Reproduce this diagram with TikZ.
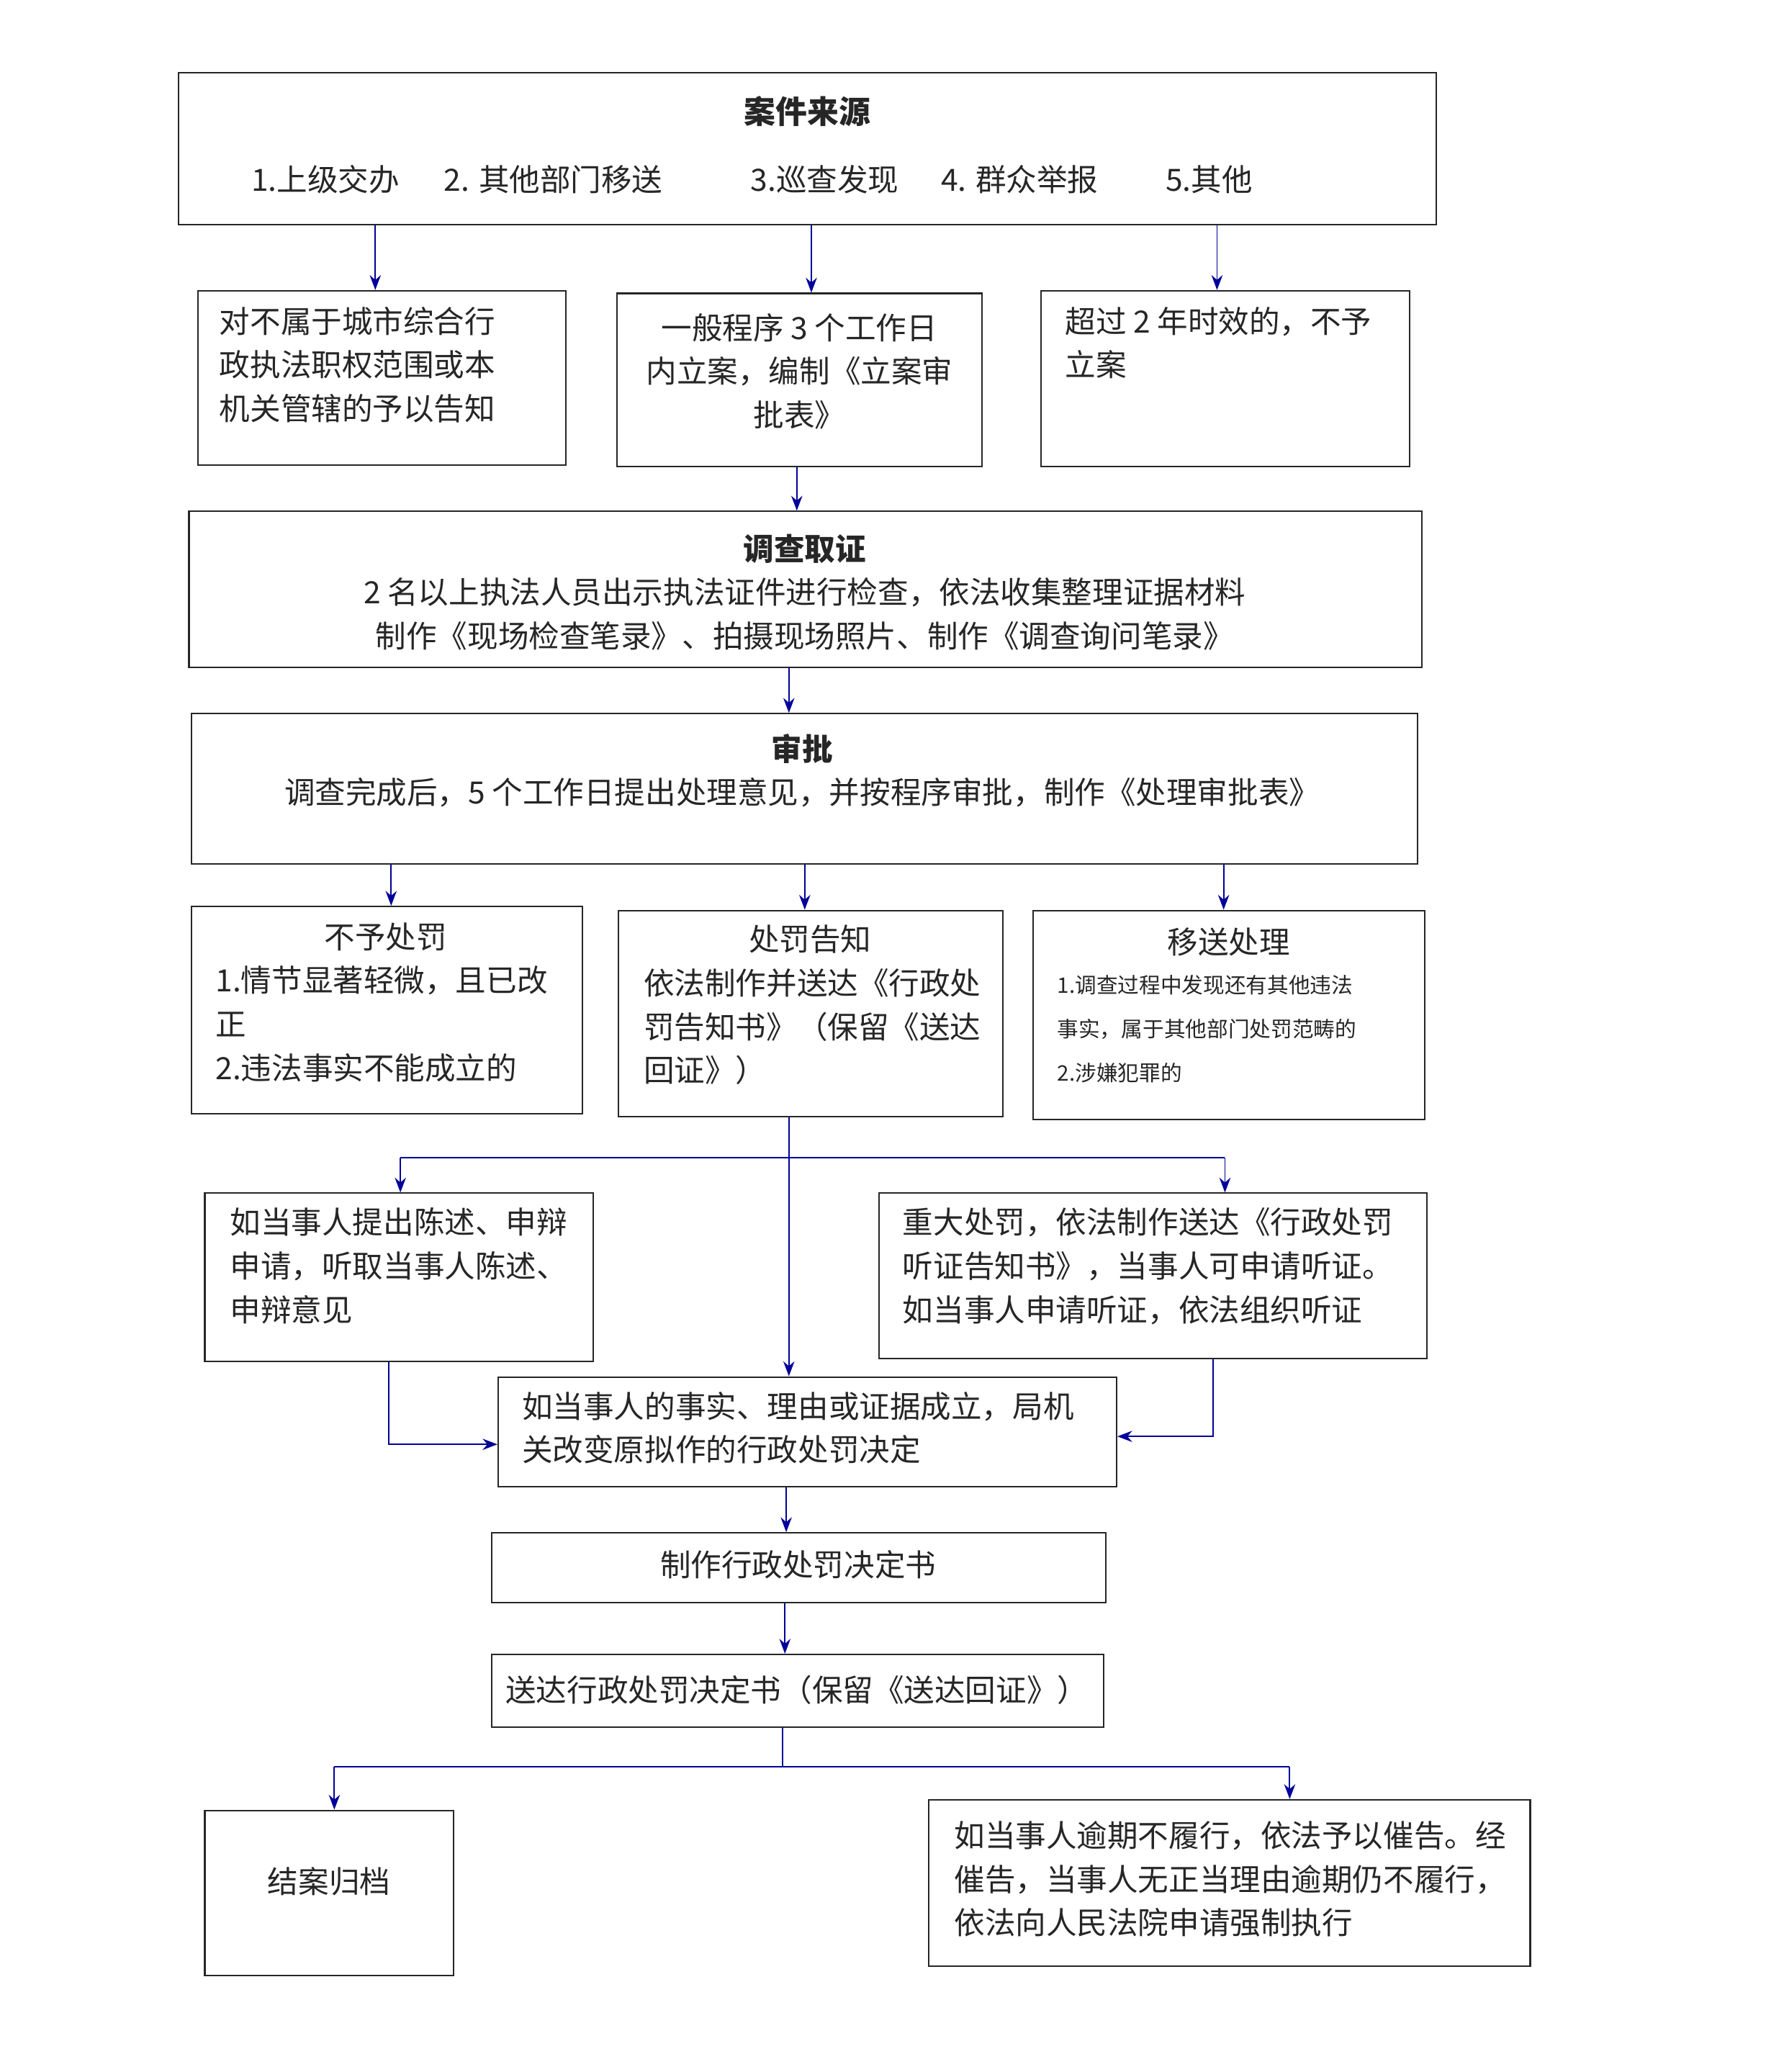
\documentclass[tikz,border=0pt]{standalone}
\usepackage{fontspec}
\setmainfont{Noto Sans CJK SC}
\usetikzlibrary{arrows.meta}
\begin{document}
\begin{tikzpicture}[x=0.05cm,y=-0.05cm,
 box/.style={draw=black!85,line width=1.6pt,inner sep=0pt},
 txt/.style={inner sep=0pt,align=left,font=\fontsize{33}{47}\selectfont,text=black!85},
 small/.style={inner sep=0pt,align=left,font=\fontsize{23}{47}\selectfont,text=black!85},
 arr/.style={draw=blue!60!black,line width=1.5pt,-{Stealth[length=16pt,width=12pt]}},
 ln/.style={draw=blue!60!black,line width=1.5pt}]
\useasboundingbox (0,0) rectangle (1336,1568);
\fill[white] (0,0) rectangle (1336,1568);
\node[box,minimum width=47.6cm,minimum height=5.75cm] (top) at (611,112.5) {};
\node[box,minimum width=13.9cm,minimum height=6.6cm] (a1) at (289,286) {};
\node[box,minimum width=13.8cm,minimum height=6.55cm] (a2) at (605,287.5) {};
\node[box,minimum width=13.95cm,minimum height=6.65cm] (a3) at (927.5,286.5) {};
\node[box,minimum width=46.65cm,minimum height=5.9cm] (inv) at (609.5,446) {};
\node[box,minimum width=46.4cm,minimum height=5.7cm] (appr) at (609,597) {};
\node[box,minimum width=14.8cm,minimum height=7.85cm] (b1) at (293,764.5) {};
\node[box,minimum width=14.55cm,minimum height=7.8cm] (b2) at (613.5,767) {};
\node[box,minimum width=14.8cm,minimum height=7.9cm] (b3) at (930,768) {};
\node[box,minimum width=14.7cm,minimum height=6.35cm] (c1) at (302,966.5) {};
\node[box,minimum width=20.75cm,minimum height=6.25cm] (c2) at (872.5,965.5) {};
\node[box,minimum width=23.4cm,minimum height=4.15cm] (d) at (611,1083.5) {};
\node[box,minimum width=23.25cm,minimum height=2.65cm] (e) at (604.5,1186.5) {};
\node[box,minimum width=23.15cm,minimum height=2.75cm] (f) at (603.5,1279.5) {};
\node[box,minimum width=9.4cm,minimum height=6.25cm] (g1) at (249,1432.5) {};
\node[box,minimum width=22.75cm,minimum height=6.3cm] (g2) at (930.5,1425) {};
% texts
\node[txt,font=\fontsize{34}{47}\selectfont\bfseries] (t0) at (611,84) {案件来源};
\node[txt,anchor=west] (t1) at (190,136) {1.上级交办};
\node[txt,anchor=west] (t2) at (336,136) {2. 其他部门移送};
\node[txt,anchor=west] (t3) at (568,136) {3.巡查发现};
\node[txt,anchor=west] (t4) at (712,136) {4. 群众举报};
\node[txt,anchor=west] (t5) at (882,136) {5.其他};
\node[txt,anchor=north west] (ta1) at (166,232) {对不属于城市综合行\\政执法职权范围或本\\机关管辖的予以告知};
\node[txt,align=center] (ta2) at (605,281) {一般程序 3 个工作日\\内立案，编制《立案审\\批表》};
\node[txt,anchor=north west] (ta3) at (806,232) {超过 2 年时效的，不予\\立案};
\node[txt,align=center] (ti) at (609,448) {\textbf{调查取证}\\2 名以上执法人员出示执法证件进行检查，依法收集整理证据材料\\制作《现场检查笔录》、拍摄现场照片、制作《调查询问笔录》};
\node[txt,align=center] (tap) at (607,583) {\textbf{审批}\\调查完成后，5 个工作日提出处理意见，并按程序审批，制作《处理审批表》};
\node[txt,anchor=north] (tb1h) at (292,698) {不予处罚};
\node[txt,anchor=north west] (tb1) at (163,731) {1.情节显著轻微，且已改\\正\\2.违法事实不能成立的};
\node[txt,anchor=north] (tb2h) at (613,700) {处罚告知};
\node[txt,anchor=north west] (tb2) at (487,733) {依法制作并送达《行政处\\罚告知书》（保留《送达\\回证》）};
\node[txt,anchor=north] (tb3h) at (930,702) {移送处理};
\node[small,anchor=north west] (tb3) at (800,738) {1.调查过程中发现还有其他违法\\事实，属于其他部门处罚范畴的\\2.涉嫌犯罪的};
\node[txt,anchor=north west] (tc1) at (174,914) {如当事人提出陈述、申辩\\申请，听取当事人陈述、\\申辩意见};
\node[txt,anchor=north west] (tc2) at (683,914) {重大处罚，依法制作送达《行政处罚\\听证告知书》，当事人可申请听证。\\如当事人申请听证，依法组织听证};
\node[txt,anchor=north west] (td) at (395,1053) {如当事人的事实、理由或证据成立，局机\\关改变原拟作的行政处罚决定};
\node[txt] (te) at (604,1184) {制作行政处罚决定书};
\node[txt] (tf) at (603,1279) {送达行政处罚决定书（保留《送达回证》）};
\node[txt] (tg1) at (249,1424) {结案归档};
\node[txt,anchor=north west] (tg2) at (722,1378) {如当事人逾期不履行，依法予以催告。经\\催告，当事人无正当理由逾期仍不履行，\\依法向人民法院申请强制执行};
% arrows
\draw[arr] (284,0 |- top.south) -- (284,0 |- a1.north);
\draw[arr] (614,0 |- top.south) -- (614,0 |- a2.north);
\draw[arr] (921,0 |- top.south) -- (921,0 |- a3.north);
\draw[arr] (603,0 |- a2.south) -- (603,0 |- inv.north);
\draw[arr] (597,0 |- inv.south) -- (597,0 |- appr.north);
\draw[arr] (296,0 |- appr.south) -- (296,0 |- b1.north);
\draw[arr] (609,0 |- appr.south) -- (609,0 |- b2.north);
\draw[arr] (926,0 |- appr.south) -- (926,0 |- b3.north);
\draw[arr] (597,0 |- b2.south) -- (597,0 |- d.north);
\coordinate (hl) at (303,876);
\coordinate (hr) at (927,876);
\draw[ln] (hl) -- (hr);
\draw[arr] (hl) -- (303,0 |- c1.north);
\draw[arr] (hr) -- (927,0 |- c2.north);
\draw[arr] (294,0 |- c1.south) -- (294,1093) -- (d.west |- 0,1093);
\draw[arr] (918,0 |- c2.south) -- (918,1087) -- (d.east |- 0,1087);
\draw[arr] (595,0 |- d.south) -- (595,0 |- e.north);
\draw[arr] (594,0 |- e.south) -- (594,0 |- f.north);
\coordinate (jm) at (592,1337);
\draw[ln] (592,0 |- f.south) -- (jm);
\draw[ln] (253,1337) -- (976,1337);
\draw[arr] (253,1337) -- (253,0 |- g1.north);
\draw[arr] (976,1337) -- (976,0 |- g2.north);
\end{tikzpicture}
\end{document}
